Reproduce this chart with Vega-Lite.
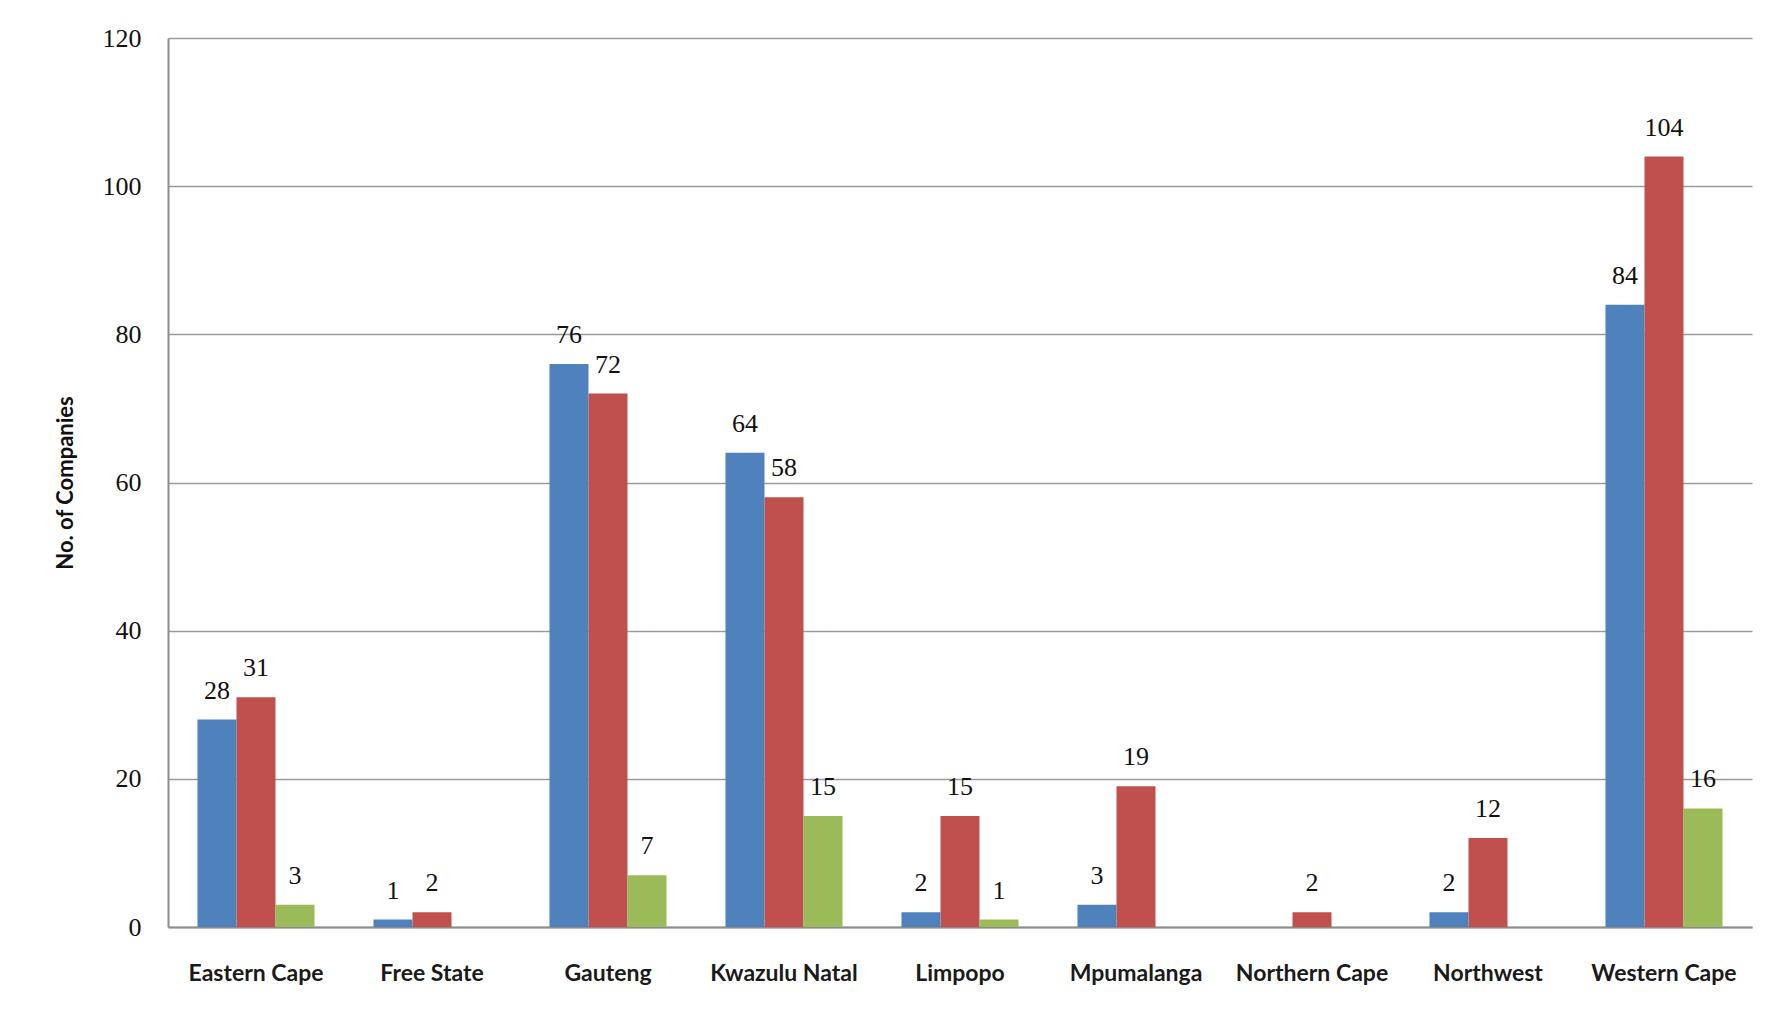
{
  "$schema": "https://vega.github.io/schema/vega-lite/v6.json",
  "autosize": {"type": "none"},
  "width": 1584,
  "height": 889,
  "padding": {"left": 168, "top": 38, "right": 37, "bottom": 92},
  "background": "white",
  "data": {
    "values": [
      {"province": "Eastern Cape", "series": "Series 1", "companies": 28},
      {"province": "Eastern Cape", "series": "Series 2", "companies": 31},
      {"province": "Eastern Cape", "series": "Series 3", "companies": 3},
      {"province": "Free State", "series": "Series 1", "companies": 1},
      {"province": "Free State", "series": "Series 2", "companies": 2},
      {"province": "Gauteng", "series": "Series 1", "companies": 76},
      {"province": "Gauteng", "series": "Series 2", "companies": 72},
      {"province": "Gauteng", "series": "Series 3", "companies": 7},
      {"province": "Kwazulu Natal", "series": "Series 1", "companies": 64},
      {"province": "Kwazulu Natal", "series": "Series 2", "companies": 58},
      {"province": "Kwazulu Natal", "series": "Series 3", "companies": 15},
      {"province": "Limpopo", "series": "Series 1", "companies": 2},
      {"province": "Limpopo", "series": "Series 2", "companies": 15},
      {"province": "Limpopo", "series": "Series 3", "companies": 1},
      {"province": "Mpumalanga", "series": "Series 1", "companies": 3},
      {"province": "Mpumalanga", "series": "Series 2", "companies": 19},
      {"province": "Northern Cape", "series": "Series 2", "companies": 2},
      {"province": "Northwest", "series": "Series 1", "companies": 2},
      {"province": "Northwest", "series": "Series 2", "companies": 12},
      {"province": "Western Cape", "series": "Series 1", "companies": 84},
      {"province": "Western Cape", "series": "Series 2", "companies": 104},
      {"province": "Western Cape", "series": "Series 3", "companies": 16}
    ]
  },
  "encoding": {
    "x": {
      "field": "province",
      "type": "nominal",
      "sort": ["Eastern Cape", "Free State", "Gauteng", "Kwazulu Natal", "Limpopo", "Mpumalanga", "Northern Cape", "Northwest", "Western Cape"],
      "scale": {"paddingInner": 0.335, "paddingOuter": 0.1675},
      "axis": {
        "title": null,
        "labelAngle": 0,
        "ticks": false,
        "grid": false,
        "domainColor": "#8c8c8c",
        "domainWidth": 2,
        "labelFont": "Lato",
        "labelFontWeight": "bold",
        "labelFontSize": 23,
        "labelColor": "#1a1a1a",
        "labelPadding": 35,
        "labelBaseline": "top"
      }
    },
    "xOffset": {
      "field": "series",
      "type": "nominal",
      "scale": {"domain": ["Series 1", "Series 2", "Series 3"]}
    },
    "y": {
      "field": "companies",
      "type": "quantitative",
      "scale": {"domain": [0, 120]},
      "axis": {
        "title": "No. of Companies",
        "titleFont": "Lato",
        "titleFontWeight": "bold",
        "titleFontSize": 22,
        "titleColor": "#111111",
        "titlePadding": 25,
        "values": [0, 20, 40, 60, 80, 100, 120],
        "ticks": false,
        "grid": true,
        "gridColor": "#9a9a9a",
        "gridWidth": 1.5,
        "domainColor": "#8c8c8c",
        "domainWidth": 2,
        "labelFont": "Liberation Serif",
        "labelFontWeight": "normal",
        "labelFontSize": 26,
        "labelColor": "#111111",
        "labelPadding": 27
      }
    }
  },
  "layer": [
    {
      "mark": {"type": "bar"},
      "encoding": {
        "color": {
          "field": "series",
          "type": "nominal",
          "scale": {"domain": ["Series 1", "Series 2", "Series 3"], "range": ["#4f81bd", "#c0504d", "#9bbb59"]},
          "legend": null
        }
      }
    },
    {
      "mark": {"type": "text", "baseline": "alphabetic", "dy": -21, "font": "Liberation Serif", "fontSize": 26, "fontWeight": "normal", "color": "#111111"},
      "encoding": {"text": {"field": "companies", "type": "quantitative"}}
    }
  ],
  "config": {"view": {"stroke": null}}
}
